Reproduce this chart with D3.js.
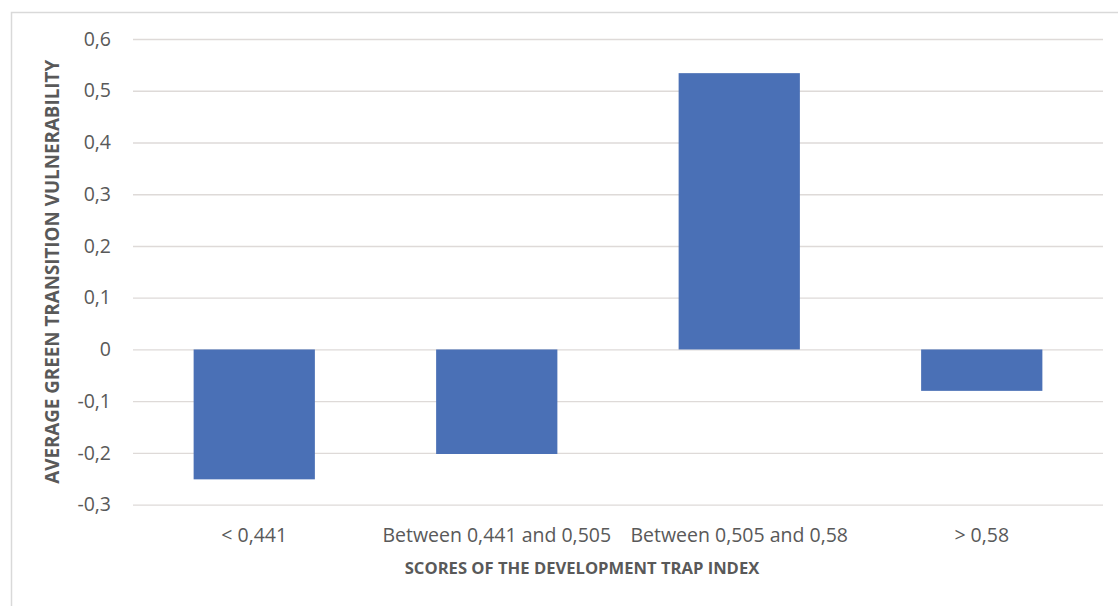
<!DOCTYPE html>
<html>
<head>
<meta charset="utf-8">
<script src="https://cdn.jsdelivr.net/npm/d3@7"></script>
<style>
  html, body { margin: 0; padding: 0; background: #fff; }
  svg { display: block; }
  text { font-family: "Open Sans", Lato, sans-serif; fill: #595959; }
</style>
</head>
<body>
<svg id="chart" width="1118" height="606"></svg>
<script>
// Development trap index bands and their mean green-transition vulnerability
const categories = ["< 0,441", "Between 0,441 and 0,505", "Between 0,505 and 0,58", "> 0,58"];
const values = [-0.251, -0.202, 0.534, -0.080];
const yTicks = [-0.3, -0.2, -0.1, 0, 0.1, 0.2, 0.3, 0.4, 0.5, 0.6];
const xTitle = "SCORES OF THE DEVELOPMENT TRAP INDEX";
const yTitle = "AVERAGE GREEN TRANSITION VULNERABILITY";

const svg = d3.select("#chart");
const W = 1118, H = 606;
const plot = { left: 133, right: 1103, top: 39, bottom: 504.7 };
const FONT = "'Open Sans', Lato, sans-serif";

// chart frame
svg.append("path")
  .attr("d", `M11.5,${H} V12.5 H${W}`)
  .attr("fill", "none")
  .attr("stroke", "#d9d9d9")
  .attr("stroke-width", 1.5);

const x = d3.scaleBand()
  .domain(categories)
  .range([plot.left, plot.right])
  .paddingInner(0.5)
  .paddingOuter(0.25);

const y = d3.scaleLinear()
  .domain([-0.3, 0.6])
  .range([plot.bottom, plot.top]);

const fmt = v => (Math.abs(v) < 1e-9 ? "0" : d3.format(".1f")(v).replace(".", ",").replace("−", "-"));

// gridlines + tick labels
const yAxis = d3.axisLeft(y)
  .tickValues(yTicks)
  .tickSize(-(plot.right - plot.left))
  .tickPadding(22)
  .tickFormat(fmt);

const gy = svg.append("g")
  .attr("transform", `translate(${plot.left},0)`)
  .call(yAxis);
gy.select(".domain").remove();
gy.selectAll(".tick line").attr("stroke", "#dedad8").attr("stroke-width", 1.3);
gy.selectAll(".tick text")
  .attr("font-size", 19.5)
  .attr("fill", "#565656")
  .style("font-family", FONT);

// bars
svg.append("g").selectAll("rect")
  .data(values)
  .join("rect")
  .attr("x", (d, i) => x(categories[i]))
  .attr("width", x.bandwidth())
  .attr("y", d => y(Math.max(0, d)))
  .attr("height", d => Math.abs(y(d) - y(0)))
  .attr("fill", "#4a70b6");

// category labels
const xAxis = d3.axisBottom(x).tickSize(0).tickPadding(0);
const gx = svg.append("g")
  .attr("transform", `translate(0,${plot.bottom + 37.5})`)
  .call(xAxis);
gx.select(".domain").remove();
gx.selectAll(".tick text")
  .attr("font-size", 19.5)
  .attr("fill", "#565656")
  .attr("dy", 0)
  .style("font-family", FONT);

// axis titles
svg.append("text")
  .attr("x", 582)
  .attr("y", 574)
  .attr("text-anchor", "middle")
  .attr("font-size", 16.6)
  .attr("font-weight", "bold")
  .text(xTitle);

svg.append("text")
  .attr("transform", `translate(58.5,${(plot.top + plot.bottom) / 2}) rotate(-90)`)
  .attr("text-anchor", "middle")
  .attr("font-size", 18.8)
  .attr("font-weight", "bold")
  .text(yTitle);
</script>
</body>
</html>
